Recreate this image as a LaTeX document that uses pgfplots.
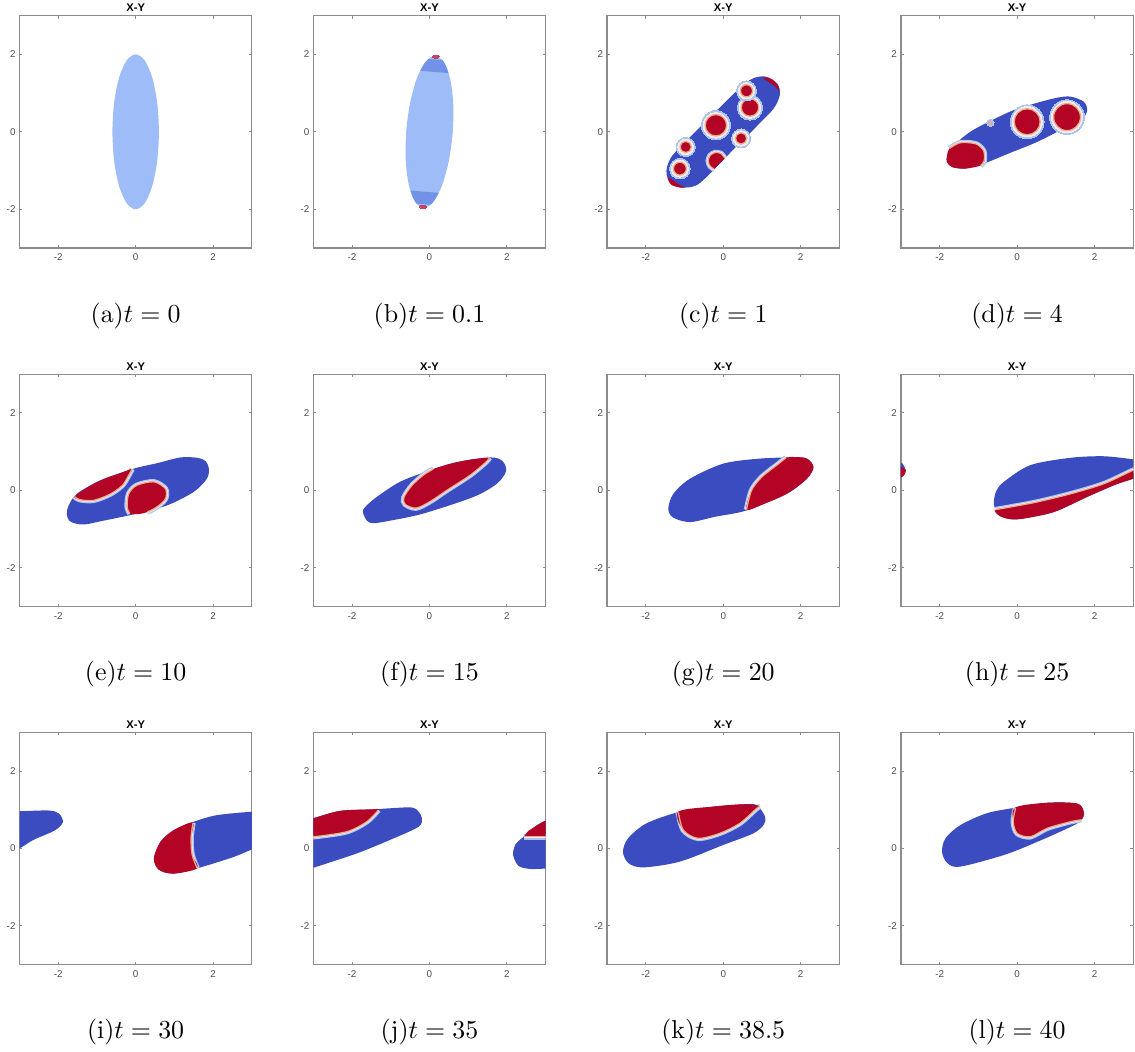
\documentclass[border=0pt]{standalone}
\usepackage{fontspec}
\setsansfont{Liberation Sans}
\usepackage{pgfplots}
\pgfplotsset{compat=1.18}
\definecolor{cwblue}{HTML}{3B4CC0}
\definecolor{cwred}{HTML}{B40426}
\definecolor{lblue}{HTML}{9DBCF8}
\definecolor{midblue}{HTML}{6384E2}
\definecolor{halob}{HTML}{A9C4F5}
\definecolor{halow}{HTML}{F2ECE8}
\definecolor{halor}{HTML}{EDA98C}
\definecolor{axgray}{HTML}{8C8C8C}
\definecolor{labgray}{HTML}{4D4D4D}
\newcommand\tickfont{\sffamily\fontsize{3.8}{4}\selectfont}
\newcommand\ttlfont{\sffamily\bfseries\fontsize{4.3}{5}\selectfont}
\pgfplotsset{
  every axis title shift=0pt,
  panel/.style={
    width=89.7pt, height=89.7pt, scale only axis, anchor=south west,
    xmin=-3, xmax=3, ymin=-3, ymax=3,
    xtick={-2,0,2}, ytick={-2,0,2},
    xticklabels={-2,0,2}, yticklabels={-2,0,2},
    tick align=inside, major tick length=1.1pt,
    every tick/.style={draw=axgray, line width=0.35pt},
    axis line style={draw=axgray, line width=0.5pt},
    tick label style={font=\tickfont, text=labgray},
    yticklabel style={inner sep=0pt, xshift=-1.35pt},
    xticklabel style={inner sep=0pt, yshift=-2.1pt},
    title={X-Y}, title style={font=\ttlfont, at={(axis description cs:0.5,1)}, anchor=center, yshift=2.97pt, inner sep=0pt},
    xlabel style={at={(axis description cs:0.5,0)}, anchor=base, yshift=-28.7pt, inner sep=0pt, font=\normalsize},
  },
  dom/.style={draw=none, fill=cwblue, smooth cycle, no markers},
  redr/.style={draw=none, fill=cwred, smooth cycle, no markers},
  redo/.style={draw=none, fill=cwred, smooth, no markers},
  redp/.style={draw=none, fill=cwred, no markers},
  hb/.style={draw=halob, line width=2.1pt, smooth, no markers},
  hw/.style={draw=halow, line width=1.15pt, smooth, no markers},
  hr/.style={draw=halor, line width=0.5pt, smooth, no markers},
}
\newcommand\iface[1]{\addplot[hb] coordinates {#1};\addplot[hw] coordinates {#1};}
\newcommand\ifaceR[1]{\addplot[hr] coordinates {#1};}
\newcommand\blob[3]{%
 \addplot[only marks, mark=*, color=halob, mark size=#3+1.6, mark options={draw=halob, fill=halob, line width=0pt}] coordinates {(#1,#2)};
 \addplot[only marks, mark=*, color=halow, mark size=#3+0.9, mark options={draw=halow, fill=halow, line width=0pt}] coordinates {(#1,#2)};
 \addplot[only marks, mark=*, color=halor, mark size=#3+0.1, mark options={draw=halor, line width=0.5pt, fill=cwred}] coordinates {(#1,#2)};}
\begin{document}
\begin{tikzpicture}
\useasboundingbox (0,0) rectangle (438.24pt,405.81pt);
% (a)
\begin{axis}[panel, at={(7.53pt,310.05pt)}, xlabel={(a)$t = 0$}]
\addplot[draw=none, fill=lblue, smooth cycle, no markers] coordinates {(0.6,0) (0.554,0.765) (0.424,1.414) (0.230,1.848) (0,2) (-0.230,1.848) (-0.424,1.414) (-0.554,0.765) (-0.6,0) (-0.554,-0.765) (-0.424,-1.414) (-0.230,-1.848) (0,-2) (0.230,-1.848) (0.424,-1.414) (0.554,-0.765)};
\end{axis}
% (b)
\begin{axis}[panel, at={(120.97pt,310.05pt)}, xlabel={(b)$t = 0.1$}]
\addplot[draw=none, fill=lblue, smooth cycle, no markers] coordinates {(0.598,-0.049) (0.614,0.707) (0.537,1.353) (0.378,1.795) (0.162,1.963) (-0.080,1.833) (-0.309,1.423) (-0.490,0.797) (-0.598,0.049) (-0.614,-0.707) (-0.537,-1.353) (-0.378,-1.795) (-0.162,-1.963) (0.080,-1.833) (0.309,-1.423) (0.490,-0.797)};
\addplot[draw=none, fill=midblue, fill opacity=0.75, no markers] coordinates {(0.496,1.517) (0.424,1.710) (0.339,1.853) (-0.031,1.883) (-0.138,1.756) (-0.242,1.577)};
\addplot[draw=none, fill=midblue, fill opacity=0.75, no markers] coordinates {(-0.496,-1.517) (-0.424,-1.710) (-0.339,-1.853) (0.031,-1.883) (0.138,-1.756) (0.242,-1.577)};
\addplot[only marks, mark=*, color=cwred!75, mark size=0.6pt, mark options={draw=cwred!75, fill=cwred!75, line width=0pt, xscale=2.2}] coordinates {(0.16,1.94) (-0.16,-1.94)};
\end{axis}
% (c)
\begin{axis}[panel, at={(234.41pt,310.05pt)}, xlabel={(c)$t = 1$}]
\addplot[dom] coordinates {(-1.45,-0.9) (-1.46,-1.12) (-1.32,-1.37) (-1.0,-1.44) (-0.6,-1.32) (0.2,-0.52) (0.9,0.18) (1.30,0.60) (1.46,0.95) (1.40,1.24) (1.12,1.42) (0.82,1.40) (0.5,1.2) (-0.2,0.52) (-0.9,-0.18) (-1.32,-0.62)};
\blob{-0.19}{0.17}{4.04}
\blob{0.69}{0.63}{3.29}
\blob{0.60}{1.06}{2.24}
\blob{0.46}{-0.17}{2.09}
\blob{-0.97}{-0.39}{2.09}
\blob{-1.12}{-0.95}{2.39}
\iface{(0.039,-0.682) (-0.06,-0.56) (-0.208,-0.533) (-0.339,-0.609) (-0.39,-0.75) (-0.339,-0.891) (-0.238,-0.959)}
\addplot[redo] coordinates {(0.039,-0.682) (-0.06,-0.56) (-0.208,-0.533) (-0.339,-0.609) (-0.39,-0.75) (-0.339,-0.891) (-0.238,-0.959)};
\ifaceR{(0.039,-0.682) (-0.06,-0.56) (-0.208,-0.533) (-0.339,-0.609) (-0.39,-0.75) (-0.339,-0.891) (-0.238,-0.959)}
\addplot[redr] coordinates {(1.02,1.40) (1.25,1.36) (1.42,1.18) (1.45,1.05) (1.33,1.18) (1.15,1.30)};
\addplot[redr] coordinates {(-1.44,-1.18) (-1.34,-1.37) (-1.10,-1.44) (-1.0,-1.43) (-1.15,-1.36) (-1.32,-1.24)};
\end{axis}
% (d)
\begin{axis}[panel, at={(347.86pt,310.05pt)}, xlabel={(d)$t = 4$}]
\addplot[dom] coordinates {(-1.81,-0.65) (-1.68,-0.39) (-1.21,0.0) (-0.69,0.28) (-0.09,0.56) (0.52,0.75) (1.03,0.88) (1.38,0.91) (1.72,0.78) (1.81,0.56) (1.68,0.34) (1.21,0.09) (0.52,-0.26) (-0.17,-0.54) (-0.86,-0.82) (-1.34,-0.95) (-1.68,-0.91) (-1.81,-0.78)};
\iface{(-1.75,-0.43) (-1.50,-0.29) (-1.25,-0.28) (-1.02,-0.33) (-0.86,-0.50) (-0.85,-0.75) (-0.94,-0.87)}
\addplot[redr] coordinates {(-1.75,-0.43) (-1.50,-0.29) (-1.25,-0.28) (-1.02,-0.33) (-0.86,-0.50) (-0.85,-0.75) (-0.94,-0.87) (-1.34,-0.95) (-1.68,-0.91) (-1.81,-0.78) (-1.81,-0.62)};
\ifaceR{(-1.75,-0.43) (-1.50,-0.29) (-1.25,-0.28) (-1.02,-0.33) (-0.86,-0.50) (-0.85,-0.75) (-0.94,-0.87)}
\blob{0.26}{0.26}{4.93}
\blob{1.29}{0.38}{5.1}
\addplot[only marks, mark=*, color=halob, mark size=1.4pt, mark options={draw=halob, fill=halob, line width=0pt}] coordinates {(-0.69,0.23)};
\addplot[only marks, mark=*, color=halor, mark size=0.7pt, mark options={draw=halor, fill=halor, line width=0pt}] coordinates {(-0.69,0.23)};
\end{axis}
% (e)
\begin{axis}[panel, at={(7.53pt,171.63pt)}, xlabel={(e)$t = 10$}]
\addplot[dom] coordinates {(-1.78,-0.60) (-1.72,-0.78) (-1.55,-0.86) (-1.30,-0.88) (-0.91,-0.80) (-0.05,-0.62) (0.81,-0.39) (1.50,-0.04) (1.84,0.30) (1.89,0.56) (1.80,0.76) (1.59,0.84) (1.16,0.85) (0.55,0.70) (-0.05,0.56) (-0.91,0.26) (-1.52,-0.09) (-1.73,-0.39)};
\iface{(-1.58,-0.16) (-1.45,-0.24) (-1.09,-0.26) (-0.66,-0.10) (-0.35,0.12) (-0.20,0.35) (-0.09,0.55)}
\addplot[redr] coordinates {(-1.58,-0.16) (-1.45,-0.24) (-1.09,-0.26) (-0.66,-0.10) (-0.35,0.12) (-0.20,0.35) (-0.09,0.55) (-0.4,0.44) (-0.8,0.30) (-1.2,0.10)};
\ifaceR{(-1.58,-0.16) (-1.45,-0.24) (-1.09,-0.26) (-0.66,-0.10) (-0.35,0.12) (-0.20,0.35) (-0.09,0.55)}
\iface{(0.3,-0.56) (0.55,-0.43) (0.77,-0.22) (0.77,0.04) (0.47,0.22) (0.03,0.13) (-0.18,-0.09) (-0.22,-0.43) (-0.15,-0.60)}
\addplot[redr] coordinates {(0.3,-0.56) (0.55,-0.43) (0.77,-0.22) (0.77,0.04) (0.47,0.22) (0.03,0.13) (-0.18,-0.09) (-0.22,-0.43) (-0.15,-0.60) (0.1,-0.61)};
\ifaceR{(0.3,-0.56) (0.55,-0.43) (0.77,-0.22) (0.77,0.04) (0.47,0.22) (0.03,0.13) (-0.18,-0.09) (-0.22,-0.43) (-0.15,-0.60)}
\end{axis}
% (f)
\begin{axis}[panel, at={(120.97pt,171.63pt)}, xlabel={(f)$t = 15$}]
\addplot[dom] coordinates {(-1.72,-0.56) (-1.62,-0.78) (-1.45,-0.85) (-1.0,-0.78) (-0.16,-0.60) (1.14,-0.17) (1.74,0.17) (1.98,0.50) (1.88,0.76) (1.57,0.85) (0.71,0.73) (0.02,0.52) (-0.76,0.22) (-1.36,-0.17) (-1.66,-0.43)};
\iface{(0.10,0.55) (-0.15,0.40) (-0.45,0.13) (-0.66,-0.18) (-0.63,-0.36) (-0.35,-0.46) (0.0,-0.30) (0.45,0.0) (1.05,0.39) (1.45,0.72) (1.55,0.84)}
\addplot[redr] coordinates {(0.10,0.55) (-0.15,0.40) (-0.45,0.13) (-0.66,-0.18) (-0.63,-0.36) (-0.35,-0.46) (0.0,-0.30) (0.45,0.0) (1.05,0.39) (1.45,0.72) (1.55,0.84) (1.1,0.80) (0.6,0.70)};
\ifaceR{(0.10,0.55) (-0.15,0.40) (-0.45,0.13) (-0.66,-0.18) (-0.63,-0.36) (-0.35,-0.46) (0.0,-0.30) (0.45,0.0) (1.05,0.39) (1.45,0.72) (1.55,0.84)}
\end{axis}
% (g)
\begin{axis}[panel, at={(234.41pt,171.63pt)}, xlabel={(g)$t = 20$}]
\addplot[dom] coordinates {(-1.42,-0.47) (-1.30,-0.70) (-0.86,-0.82) (-0.2,-0.68) (0.60,-0.52) (1.64,-0.09) (2.16,0.30) (2.33,0.60) (2.16,0.82) (1.81,0.85) (0.95,0.82) (0.0,0.69) (-0.86,0.30) (-1.29,-0.09)};
\iface{(1.62,0.84) (1.38,0.65) (0.99,0.34) (0.73,0.0) (0.60,-0.50)}
\addplot[redr] coordinates {(1.62,0.84) (1.38,0.65) (0.99,0.34) (0.73,0.0) (0.60,-0.50) (1.0,-0.37) (1.64,-0.09) (2.16,0.30) (2.33,0.60) (2.16,0.82) (1.85,0.86)};
\ifaceR{(1.62,0.84) (1.38,0.65) (0.99,0.34) (0.73,0.0) (0.60,-0.50)}
\end{axis}
% (h)
\begin{axis}[panel, at={(347.86pt,171.63pt)}, xlabel={(h)$t = 25$}]
\addplot[dom] coordinates {(-0.60,-0.34) (-0.50,-0.62) (-0.26,-0.73) (0.09,-0.74) (0.95,-0.56) (1.81,-0.17) (2.5,0.13) (3.0,0.30) (3.3,0.40) (3.3,0.75) (3.0,0.80) (2.24,0.88) (1.38,0.84) (0.34,0.65) (-0.34,0.22) (-0.54,-0.02)};
\iface{(-0.57,-0.50) (-0.17,-0.43) (0.52,-0.30) (1.38,-0.09) (2.24,0.17) (3.0,0.52) (3.3,0.62)}
\addplot[redr] coordinates {(-0.57,-0.50) (-0.17,-0.43) (0.52,-0.30) (1.38,-0.09) (2.24,0.17) (3.0,0.52) (3.3,0.62) (3.3,0.40) (3.0,0.30) (2.5,0.13) (1.81,-0.17) (0.95,-0.56) (0.09,-0.74) (-0.26,-0.73) (-0.48,-0.64)};
\ifaceR{(-0.57,-0.50) (-0.17,-0.43) (0.52,-0.30) (1.38,-0.09) (2.24,0.17) (3.0,0.52) (3.3,0.62)}
\addplot[dom] coordinates {(-2.88,0.52) (-2.95,0.68) (-3.05,0.73) (-3.2,0.6) (-3.2,0.4) (-3.05,0.32) (-2.93,0.38)};
\addplot[redr] coordinates {(-2.87,0.52) (-2.93,0.38) (-3.05,0.32) (-3.2,0.4) (-3.2,0.55) (-3.0,0.60)};
\end{axis}
% (i)
\begin{axis}[panel, at={(7.53pt,33.36pt)}, xlabel={(i)$t = 30$}]
\addplot[dom] coordinates {(-3.3,-0.1) (-3.0,0.0) (-2.64,0.22) (-2.08,0.47) (-1.88,0.68) (-1.98,0.90) (-2.25,0.98) (-3.0,0.96) (-3.3,0.96)};
\addplot[dom] coordinates {(0.47,-0.26) (0.6,-0.55) (0.98,-0.65) (1.67,-0.49) (2.53,-0.22) (3.02,-0.02) (3.3,0.05) (3.3,0.95) (3.02,0.95) (2.10,0.86) (1.5,0.69) (0.98,0.47) (0.64,0.17)};
\iface{(1.48,0.66) (1.43,0.26) (1.46,-0.17) (1.59,-0.51)}
\addplot[redr] coordinates {(1.48,0.67) (1.43,0.26) (1.46,-0.17) (1.59,-0.51) (0.98,-0.65) (0.6,-0.55) (0.47,-0.26) (0.64,0.17) (0.98,0.47)};
\ifaceR{(1.48,0.66) (1.43,0.26) (1.46,-0.17) (1.59,-0.51)}
\end{axis}
% (j)
\begin{axis}[panel, at={(120.97pt,33.36pt)}, xlabel={(j)$t = 35$}]
\addplot[dom] coordinates {(-3.3,-0.6) (-3.0,-0.5) (-1.88,-0.13) (-1.02,0.22) (-0.28,0.56) (-0.2,0.80) (-0.35,1.02) (-0.59,1.06) (-1.45,1.01) (-2.31,0.97) (-3.0,0.78) (-3.3,0.7)};
\iface{(-1.32,0.99) (-1.62,0.69) (-2.14,0.43) (-3.0,0.30) (-3.3,0.29)}
\addplot[redr] coordinates {(-1.32,1.0) (-1.62,0.69) (-2.14,0.43) (-3.0,0.30) (-3.3,0.29) (-3.3,0.72) (-3.0,0.78) (-2.31,0.97) (-1.45,1.01)};
\ifaceR{(-1.32,0.99) (-1.62,0.69) (-2.14,0.43) (-3.0,0.30) (-3.3,0.29)}
\addplot[dom] coordinates {(2.16,-0.17) (2.30,-0.45) (2.60,-0.53) (3.02,-0.52) (3.3,-0.52) (3.3,0.80) (3.02,0.73) (2.78,0.60) (2.43,0.30) (2.22,0.10)};
\iface{(2.43,0.30) (3.3,0.30)}
\addplot[redp] coordinates {(2.43,0.30) (2.55,0.45) (2.78,0.60) (3.02,0.73) (3.3,0.80) (3.3,0.30)};
\ifaceR{(2.43,0.30) (3.3,0.30)}
\end{axis}
% (k)
\begin{axis}[panel, at={(234.41pt,33.36pt)}, xlabel={(k)$t = 38.5$}]
\addplot[dom] coordinates {(-2.59,-0.09) (-2.45,-0.38) (-2.07,-0.49) (-1.12,-0.34) (0.0,0.09) (0.78,0.39) (1.05,0.62) (1.08,0.82) (0.86,1.12) (0.5,1.14) (-0.26,1.08) (-1.12,0.95) (-1.98,0.65) (-2.46,0.26)};
\iface{(-1.16,0.93) (-1.03,0.47) (-0.65,0.26) (-0.09,0.39) (0.43,0.65) (0.86,1.03) (0.95,1.08)}
\addplot[redr] coordinates {(-1.16,0.95) (-1.03,0.47) (-0.65,0.26) (-0.09,0.39) (0.43,0.65) (0.86,1.03) (0.90,1.11) (0.5,1.14) (-0.26,1.08)};
\ifaceR{(-1.16,0.93) (-1.03,0.47) (-0.65,0.26) (-0.09,0.39) (0.43,0.65) (0.86,1.03) (0.95,1.08)}
\end{axis}
% (l)
\begin{axis}[panel, at={(347.86pt,33.36pt)}, xlabel={(l)$t = 40$}]
\addplot[dom] coordinates {(-1.94,-0.09) (-1.80,-0.38) (-1.47,-0.47) (-0.34,-0.17) (0.52,0.17) (1.47,0.60) (1.70,0.78) (1.72,0.95) (1.55,1.16) (0.78,1.18) (0.0,1.06) (-0.78,0.91) (-1.47,0.60) (-1.85,0.26)};
\iface{(-0.04,1.04) (-0.10,0.69) (0.0,0.39) (0.34,0.30) (0.78,0.52) (1.38,0.69) (1.66,0.74)}
\addplot[redr] coordinates {(-0.04,1.06) (-0.10,0.69) (0.0,0.39) (0.34,0.30) (0.78,0.52) (1.38,0.69) (1.66,0.75) (1.72,0.95) (1.55,1.16) (0.78,1.18)};
\ifaceR{(-0.04,1.04) (-0.10,0.69) (0.0,0.39) (0.34,0.30) (0.78,0.52) (1.38,0.69) (1.66,0.74)}
\end{axis}
\end{tikzpicture}
\end{document}
